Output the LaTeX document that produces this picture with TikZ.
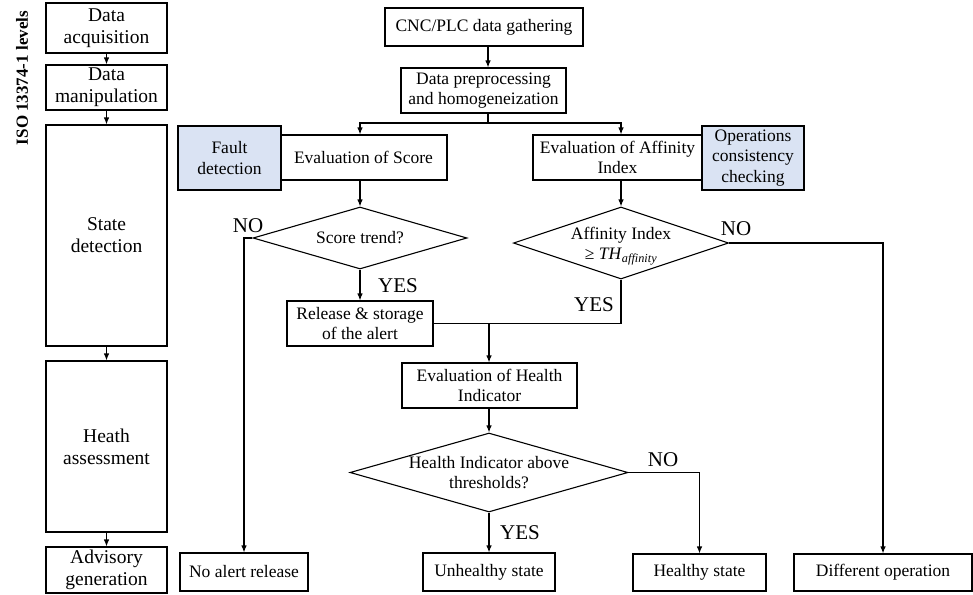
\documentclass[tikz,border=0pt]{standalone}
\usepackage{fontspec}
\setmainfont{Liberation Serif}
\usetikzlibrary{shapes.geometric,arrows.meta,calc}
\definecolor{paleblue}{HTML}{DAE3F3}
\begin{document}
\begin{tikzpicture}[x=1pt,y=-1pt,
  box/.style={draw=black, line width=1.1pt, align=center, inner sep=0pt, font=\fontsize{17.5}{20.5}\selectfont},
  lbox/.style={box, minimum width=121pt, font=\fontsize{19.5}{22}\selectfont},
  bluebox/.style={box, fill=paleblue, line width=2pt},
  dia/.style={draw=black, line width=1.1pt, diamond, inner sep=0pt},
  dtext/.style={align=center, inner sep=0pt, font=\fontsize{17.5}{20.5}\selectfont},
  arr/.style={line width=1.1pt, -{Latex[length=7pt,width=5.5pt]}},
  ln/.style={line width=1.1pt},
  yn/.style={font=\fontsize{21}{24}\selectfont, inner sep=0pt}
]
\useasboundingbox (0,0) rectangle (973,594);

% ISO levels column
\node[rotate=90, font=\bfseries\fontsize{17}{20}\selectfont, inner sep=0pt] (iso) at (22,78) {ISO 13374-1 levels};
\node[lbox, minimum height=50pt] (acq) at (106.5,28) {Data\\acquisition};
\node[lbox, minimum height=45pt] (man) at (106.5,87.5) {Data\\manipulation};
\node[lbox, minimum height=221pt] (state) at (106.5,235.5) {State\\detection};
\node[lbox, minimum height=171pt] (heath) at (106.5,446.5) {Heath\\assessment};
\node[lbox, minimum height=46pt] (adv) at (106.5,570) {Advisory\\generation};
\draw[arr] (acq) -- (man);
\draw[arr] (man) -- (state);
\draw[arr] (state) -- (heath);
\draw[arr] (heath) -- (adv);

% main flow
\node[box, minimum width=198pt, minimum height=38pt] (cnc) at (484,27) {CNC/PLC data gathering};
\node[box, minimum width=165pt, minimum height=45pt] (pre) at (483.5,90.5) {Data preprocessing\\and homogeneization};
\coordinate (split) at (488,123);
\node[box, minimum width=167pt, minimum height=45pt] (score) at (363.5,157.5) {Evaluation of Score};
\node[bluebox, minimum width=103pt, minimum height=64pt] (fault) at (229.5,158) {Fault\\detection};
\node[box, minimum width=169pt, minimum height=45pt] (aff) at (617.5,157.5) {Evaluation of Affinity\\Index};
\node[bluebox, minimum width=102pt, minimum height=64pt] (ops) at (753,158) {Operations\\consistency\\checking};

\node[dia, minimum width=214pt, minimum height=62pt] (d1) at (360,238) {};
\node[dtext] (d1t) at (d1) {Score trend?};
\node[dia, minimum width=215pt, minimum height=72pt] (d2) at (621,243) {};
\node[dtext] (d2t) at (621,246) {Affinity Index\\≥ \textit{TH}\textsubscript{\textit{affinity}}};

\node[box, minimum width=146pt, minimum height=45pt] (rel) at (360,323.5) {Release \& storage\\of the alert};
\coordinate (join) at (489,323.5);
\node[box, minimum width=175pt, minimum height=45pt] (heval) at (489.5,385.5) {Evaluation of Health\\Indicator};
\node[dia, minimum width=278pt, minimum height=79pt] (d3) at (489,472.5) {};
\node[dtext] (d3t) at (d3) {Health Indicator above\\thresholds?};

\node[box, minimum width=128pt, minimum height=38pt] (noalert) at (244,572) {No alert release};
\node[box, minimum width=132pt, minimum height=38pt] (unh) at (489,572) {Unhealthy state};
\node[box, minimum width=133pt, minimum height=37pt] (hea) at (699.5,572.5) {Healthy state};
\node[box, minimum width=178pt, minimum height=37pt] (diff) at (883,572.5) {Different operation};

% connectors
\draw[arr] (cnc.south -| split) -- (pre.north -| split);
\draw[ln] (pre.south -| split) -- (split);
\draw[arr] (split) -| (score.north -| d1);
\draw[arr] (split) -| (aff.north -| d2);
\draw[arr] (score.south -| d1) -- (d1.north);
\draw[arr] (aff.south -| d2) -- (d2.north);
\draw[arr] (d1.west) -| (noalert.north);
\draw[arr] (d1.south) -- (rel.north);
\draw[arr] (d2.east) -| (diff.north);
\draw[ln] (d2.south) |- (join);
\draw[ln] (rel.east) -- (join);
\draw[arr] (join) -- (heval.north -| join);
\draw[arr] (heval.south -| d3) -- (d3.north);
\draw[arr] (d3.south) -- (unh.north);
\draw[arr] (d3.east) -| (hea.north);

% labels
\node[yn] (no1) at (248,226) {NO};
\node[yn] (yes1) at (398,286) {YES};
\node[yn] (no2) at (736,229) {NO};
\node[yn] (yes2) at (594,305) {YES};
\node[yn] (no3) at (663,460) {NO};
\node[yn] (yes3) at (520,533) {YES};
\end{tikzpicture}
\end{document}
